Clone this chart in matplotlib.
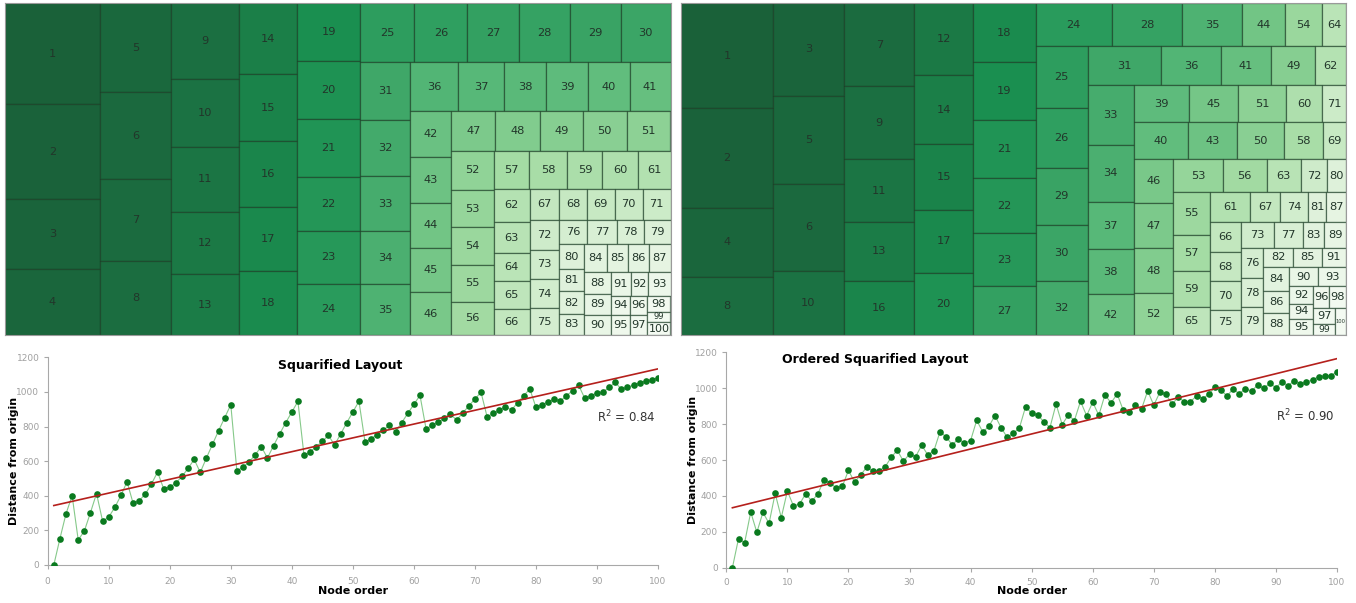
import matplotlib
matplotlib.use("Agg")
import matplotlib.pyplot as plt
from matplotlib.patches import Rectangle
from matplotlib.colors import LinearSegmentedColormap
import numpy as np

plt.rcParams['font.family'] = ['DejaVu Sans']

# node sizes (node 1 .. 100)
sizes = [9617, 9101, 6628, 6332, 6324, 6224, 5804, 5298, 5105, 4624,
         4380, 4238, 4109, 4079, 3866, 3808, 3710, 3675, 3671, 3671,
         3633, 3418, 3355, 3247, 3204, 3127, 3050, 3027, 2974, 2950,
         2885, 2800, 2750, 2650, 2550, 2338, 2197, 2062, 2033, 2004,
         1984, 1897, 1848, 1832, 1815, 1738, 1784, 1776, 1732, 1748,
         1760, 1644, 1619, 1606, 1563, 1419, 1331, 1451, 1316, 1342,
         1230, 1202, 1116, 1019, 1019, 925, 911, 892, 857, 889,
         870, 850, 850, 841, 774, 690, 729, 663, 632, 624,
         576, 573, 540, 624, 578, 567, 597, 577, 553, 542,
         474, 419, 529, 367, 386, 331, 348, 366, 247, 296]

# strips of each layout: 'c' = column on the left, 'r' = row on top
squarified_strips = [
    ('c', [1, 2, 3, 4]), ('c', [5, 6, 7, 8]), ('c', [9, 10, 11, 12, 13]),
    ('c', [14, 15, 16, 17, 18]), ('c', [19, 20, 21, 22, 23, 24]),
    ('r', [25, 26, 27, 28, 29, 30]), ('c', [31, 32, 33, 34, 35]),
    ('r', [36, 37, 38, 39, 40, 41]), ('c', [42, 43, 44, 45, 46]),
    ('r', [47, 48, 49, 50, 51]), ('c', [52, 53, 54, 55, 56]),
    ('r', [57, 58, 59, 60, 61]), ('c', [62, 63, 64, 65, 66]),
    ('r', [67, 68, 69, 70, 71]), ('c', [72, 73, 74, 75]),
    ('r', [76, 77, 78, 79]), ('c', [80, 81, 82, 83]),
    ('r', [84, 85, 86, 87]), ('c', [88, 89, 90]), ('r', [91, 92, 93]),
    ('c', [94, 95]), ('c', [96, 97]), ('c', [98, 99, 100])]

ordered_strips = [
    ('c', [1, 2, 4, 8]), ('c', [3, 5, 6, 10]), ('c', [7, 9, 11, 13, 16]),
    ('c', [12, 14, 15, 17, 20]), ('c', [18, 19, 21, 22, 23, 27]),
    ('r', [24, 28, 35, 44, 54, 64]), ('c', [25, 26, 29, 30, 32]),
    ('r', [31, 36, 41, 49, 62]), ('c', [33, 34, 37, 38, 42]),
    ('r', [39, 45, 51, 60, 71]), ('r', [40, 43, 50, 58, 69]),
    ('c', [46, 47, 48, 52]), ('r', [53, 56, 63, 72, 80]),
    ('c', [55, 57, 59, 65]), ('r', [61, 67, 74, 81, 87]),
    ('c', [66, 68, 70, 75]), ('r', [73, 77, 83, 89]),
    ('c', [76, 78, 79]), ('r', [82, 85, 91]), ('c', [84, 86, 88]),
    ('r', [90, 93]), ('c', [92, 94, 95]), ('r', [96, 98]),
    ('c', [97, 99]), ('c', [100])]

# distance from origin per node order
squarified_dist = [0, 152, 296, 401, 145, 196, 302, 413, 253, 277,
                   333, 402, 481, 356, 372, 410, 468, 537, 441, 450,
                   474, 512, 558, 610, 535, 618, 697, 776, 851, 926,
                   543, 566, 595, 637, 684, 618, 689, 757, 822, 884,
                   945, 633, 654, 684, 714, 749, 693, 757, 822, 884,
                   946, 709, 730, 753, 780, 807, 770, 822, 876, 928,
                   980, 786, 807, 826, 847, 870, 838, 878, 919, 959,
                   998, 856, 876, 893, 915, 895, 938, 978, 1017, 911,
                   926, 942, 957, 947, 978, 1007, 1038, 963, 978, 994,
                   1000, 1026, 1055, 1015, 1026, 1040, 1053, 1063, 1071, 1082]

ordered_dist = [0, 162, 139, 310, 197, 308, 247, 414, 279, 427,
                344, 355, 412, 370, 412, 489, 472, 444, 453, 542,
                477, 516, 561, 537, 541, 561, 615, 654, 593, 633,
                619, 682, 628, 652, 758, 728, 685, 717, 695, 708,
                821, 756, 788, 847, 780, 726, 749, 779, 896, 860,
                851, 812, 781, 912, 797, 851, 820, 927, 847, 922,
                849, 963, 918, 968, 877, 866, 905, 885, 985, 905,
                978, 966, 911, 950, 925, 925, 957, 942, 966, 1005,
                988, 957, 996, 968, 998, 983, 1018, 999, 1027, 1003,
                1035, 1014, 1042, 1026, 1033, 1048, 1063, 1070, 1070, 1091]

node_order = list(range(1, 101))

W, H = 1356, 603
fig = plt.figure(figsize=(W / 100, H / 100), dpi=100)

cmap = LinearSegmentedColormap.from_list("tm", [
    (0.0, '#1a6139'), (0.08, '#1b6f41'), (0.18, '#1a8f50'),
    (0.24, '#2c9d5e'), (0.30, '#3ea667'), (0.36, '#55b777'),
    (0.46, '#7bc98a'), (0.56, '#a3dba3'), (0.66, '#c2e7be'),
    (0.80, '#def1da'), (1.0, '#f4faf2')])


def layout(strips, w, h):
    total = sum(sizes[i - 1] for _, ids in strips for i in ids)
    scale = w * h / total
    x, y = 0.0, 0.0
    rects = {}
    for orient, ids in strips:
        a = sum(sizes[i - 1] for i in ids) * scale
        if orient == 'c':
            t = a / h
            yy = y
            for i in ids:
                ch = sizes[i - 1] * scale / t
                rects[i] = (x, yy, t, ch)
                yy += ch
            x += t
            w -= t
        else:
            t = a / w
            xx = x
            for i in ids:
                cw = sizes[i - 1] * scale / t
                rects[i] = (xx, y, cw, t)
                xx += cw
            y += t
            h -= t
    return rects


def draw_treemap(box, strips):
    x0, y0, bw, bh = box
    ax = fig.add_axes([x0 / W, 1 - (y0 + bh) / H, bw / W, bh / H])
    rects = layout(strips, bw, bh)
    for i, (rx, ry, rw, rh) in rects.items():
        ax.add_patch(Rectangle((rx, ry), rw, rh, facecolor=cmap((i - 1) / 99),
                               edgecolor=(0.08, 0.22, 0.12, 0.6), linewidth=0.9))
        lab = str(i)
        fs = min(8.2, (rh - 4) / 1.1, (rw - 1) / (0.88 * len(lab)))
        ax.text(rx + rw / 2, ry + rh / 2, lab, ha='center', va='center',
                fontsize=max(fs, 2.5), color='#22362a')
    ax.set_xlim(0, bw)
    ax.set_ylim(bh, 0)
    ax.set_xticks([])
    ax.set_yticks([])
    for s in ax.spines.values():
        s.set_color('#9a9a9a')
        s.set_linewidth(0.8)


draw_treemap((4.5, 3.3, 666, 331.7), squarified_strips)
draw_treemap((681.3, 3.3, 664.7, 331.7), ordered_strips)


def draw_scatter(box, dist, r2, xlab_y, tick_pad):
    x0, ytop, bw, bh = box
    ax = fig.add_axes([x0 / W, 1 - (ytop + bh) / H, bw / W, bh / H])
    ax.plot(node_order, dist, color='#86c98a', linewidth=0.8, zorder=2)
    ax.plot(node_order, dist, 'o', color='#0a7a1f', markersize=4.8,
            markeredgewidth=0, zorder=3)
    k, b = np.polyfit(node_order, dist, 1)
    xs = np.array([1, 100])
    ax.plot(xs, k * xs + b, color='#b5201c', linewidth=1.2, zorder=4)
    ax.set_xlim(0, 100)
    ax.set_ylim(0, 1200)
    ax.set_xticks(range(0, 101, 10))
    ax.set_yticks(range(0, 1201, 200))
    for s in ['top', 'right']:
        ax.spines[s].set_visible(False)
    for s in ['left', 'bottom']:
        ax.spines[s].set_color('#a8a8a8')
        ax.spines[s].set_linewidth(0.8)
    ax.tick_params(axis='both', colors='#a8a8a8', labelcolor='#a0a0a0',
                   labelsize=6.5, length=3, width=0.8)
    ax.tick_params(axis='x', pad=tick_pad)
    ax.tick_params(axis='y', pad=3)
    ax.set_xlabel('Node order', fontsize=8, fontweight='bold', color='black')
    ax.set_ylabel('Distance from origin', fontsize=8, fontweight='bold', color='black')
    ax.xaxis.set_label_coords(0.5, xlab_y)
    ax.yaxis.set_label_coords(-0.047, 0.5)
    ax.text(94.8, r2[1], r'R$^2$ = ' + r2[0], ha='center', va='center',
            fontsize=8.5, color='#333333')
    ax.patch.set_alpha(0)
    return ax


draw_scatter((47.7, 357.3, 610.3, 207.7), squarified_dist, ('0.84', 855), -0.10, 5.5)
draw_scatter((726.3, 352.3, 610.7, 215.4), ordered_dist, ('0.90', 845), -0.085, 4.5)

fig.text(340 / W, 1 - 365 / H, 'Squarified Layout', ha='center', va='center',
         fontsize=9, fontweight='bold')
fig.text(875.5 / W, 1 - 359 / H, 'Ordered Squarified Layout', ha='center', va='center',
         fontsize=9, fontweight='bold')

fig.savefig('out.png', dpi=100)
